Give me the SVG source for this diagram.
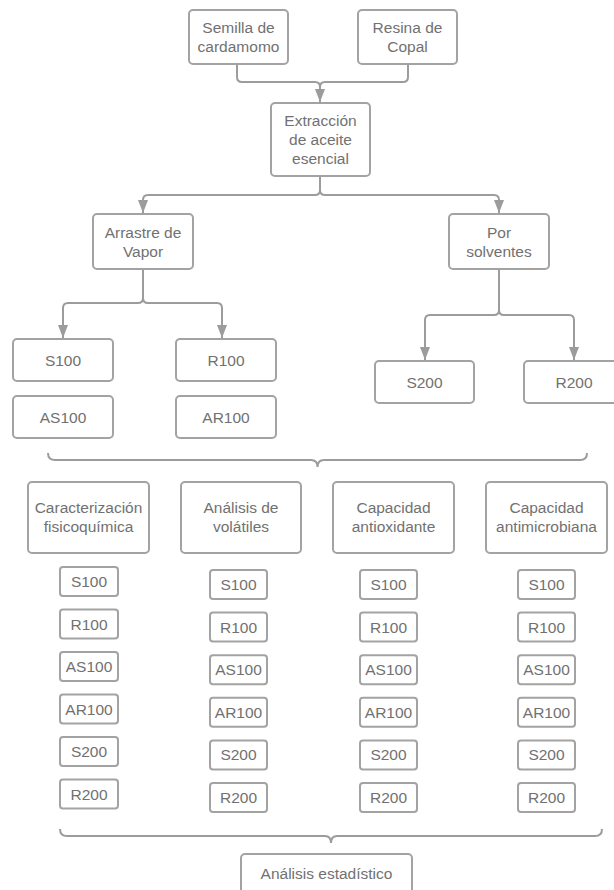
<svg xmlns="http://www.w3.org/2000/svg" width="614" height="890" viewBox="0 0 614 890">
<style>
.b{fill:#fff;stroke:#a3a3a3;stroke-width:2}
.t{font-family:"Liberation Sans",Arial,sans-serif;font-size:15.5px;fill:#717171;text-anchor:middle}
.c{fill:none;stroke:#9c9c9c;stroke-width:2}
</style>
<defs>
<marker id="ar" viewBox="0 0 10 13" markerWidth="10" markerHeight="13" refX="5" refY="13" orient="0" markerUnits="userSpaceOnUse">
<path d="M0,0 L10,0 L5,13 z" fill="#9c9c9c"/>
</marker>
</defs>
<rect width="614" height="890" fill="#fff"/>
<g id="connectors">
<path class="c" d="M237,64 V77 Q237,82 242,82 H315 Q320,82 320,87 V102" marker-end="url(#ar)"/>
<path class="c" d="M408,64 V77 Q408,82 403,82 H325 Q320,82 320,87"/>
<path class="c" d="M320,176 V190 Q320,195 315,195 H148 Q143,195 143,200 V213" marker-end="url(#ar)"/>
<path class="c" d="M320,190 Q320,195 325,195 H494 Q499,195 499,200 V213" marker-end="url(#ar)"/>
<path class="c" d="M143,269 V298 Q143,303 138,303 H68 Q63,303 63,308 V338" marker-end="url(#ar)"/>
<path class="c" d="M143,298 Q143,303 148,303 H217 Q222,303 222,308 V338" marker-end="url(#ar)"/>
<path class="c" d="M499,269 V310 Q499,315 494,315 H430 Q425,315 425,320 V360" marker-end="url(#ar)"/>
<path class="c" d="M499,310 Q499,315 504,315 H569 Q574,315 574,320 V360" marker-end="url(#ar)"/>
<path class="c" d="M48,453 Q48,460 55,460 H311 Q317.5,460 317.5,467 Q317.5,460 324,460 H580 Q587,460 587,453"/>
<path class="c" d="M60,829 Q60,836 67,836 H325 Q331,836 331,843 Q331,836 337,836 H595 Q602,836 602,829"/>
</g>
<g id="semilla"><rect class="b" x="189" y="10" width="99" height="54" rx="4"/><text class="t" x="238.5" y="32.5">Semilla de</text><text class="t" x="238.5" y="51.5">cardamomo</text></g>
<g id="resina"><rect class="b" x="358" y="10" width="99" height="54" rx="4"/><text class="t" x="407.5" y="32.5">Resina de</text><text class="t" x="407.5" y="51.5">Copal</text></g>
<g id="extraccion"><rect class="b" x="271" y="103" width="99" height="73" rx="4"/><text class="t" x="320.5" y="126">Extracción</text><text class="t" x="320.5" y="145">de aceite</text><text class="t" x="320.5" y="164">esencial</text></g>
<g id="arrastre"><rect class="b" x="93" y="214" width="100" height="55" rx="4"/><text class="t" x="143" y="237.5">Arrastre de</text><text class="t" x="143" y="256.5">Vapor</text></g>
<g id="solventes"><rect class="b" x="449" y="214" width="100" height="55" rx="4"/><text class="t" x="499" y="237.5">Por</text><text class="t" x="499" y="256.5">solventes</text></g>
<g id="s100"><rect class="b" x="13" y="339" width="100" height="42" rx="4"/><text class="t" x="63" y="365.5">S100</text></g>
<g id="r100"><rect class="b" x="176" y="339" width="100" height="42" rx="4"/><text class="t" x="226" y="365.5">R100</text></g>
<g id="as100"><rect class="b" x="13" y="396" width="100" height="42" rx="4"/><text class="t" x="63" y="422.5">AS100</text></g>
<g id="ar100"><rect class="b" x="176" y="396" width="100" height="42" rx="4"/><text class="t" x="226" y="422.5">AR100</text></g>
<g id="s200"><rect class="b" x="375" y="361" width="99" height="42" rx="4"/><text class="t" x="424.5" y="387.5">S200</text></g>
<g id="r200"><rect class="b" x="524" y="361" width="100" height="42" rx="4"/><text class="t" x="574" y="387.5">R200</text></g>
<g id="caracterizacion"><rect class="b" x="28" y="482" width="121" height="71" rx="4"/><text class="t" x="88.5" y="513">Caracterización</text><text class="t" x="88.5" y="532">fisicoquímica</text></g>
<g id="volatiles"><rect class="b" x="181" y="482" width="120" height="71" rx="4"/><text class="t" x="241" y="513">Análisis de</text><text class="t" x="241" y="532">volátiles</text></g>
<g id="antioxidante"><rect class="b" x="333" y="482" width="121" height="71" rx="4"/><text class="t" x="393.5" y="513">Capacidad</text><text class="t" x="393.5" y="532">antioxidante</text></g>
<g id="antimicrobiana"><rect class="b" x="486" y="482" width="121" height="71" rx="4"/><text class="t" x="546.5" y="513">Capacidad</text><text class="t" x="546.5" y="532">antimicrobiana</text></g>
<g id="c1-s100"><rect class="b" x="60" y="567" width="58" height="29" rx="3"/><text class="t" x="89" y="587">S100</text></g>
<g id="c1-r100"><rect class="b" x="60" y="609.5" width="58" height="29" rx="3"/><text class="t" x="89" y="629.5">R100</text></g>
<g id="c1-as100"><rect class="b" x="60" y="652" width="58" height="29" rx="3"/><text class="t" x="89" y="672">AS100</text></g>
<g id="c1-ar100"><rect class="b" x="60" y="694.5" width="58" height="29" rx="3"/><text class="t" x="89" y="714.5">AR100</text></g>
<g id="c1-s200"><rect class="b" x="60" y="737" width="58" height="29" rx="3"/><text class="t" x="89" y="757">S200</text></g>
<g id="c1-r200"><rect class="b" x="60" y="779.5" width="58" height="29" rx="3"/><text class="t" x="89" y="799.5">R200</text></g>
<g id="c2-s100"><rect class="b" x="210" y="570" width="57" height="29" rx="3"/><text class="t" x="238.5" y="590">S100</text></g>
<g id="c2-r100"><rect class="b" x="210" y="612.6" width="57" height="29" rx="3"/><text class="t" x="238.5" y="632.6">R100</text></g>
<g id="c2-as100"><rect class="b" x="210" y="655.2" width="57" height="29" rx="3"/><text class="t" x="238.5" y="675.2">AS100</text></g>
<g id="c2-ar100"><rect class="b" x="210" y="697.8" width="57" height="29" rx="3"/><text class="t" x="238.5" y="717.8">AR100</text></g>
<g id="c2-s200"><rect class="b" x="210" y="740.4" width="57" height="29" rx="3"/><text class="t" x="238.5" y="760.4">S200</text></g>
<g id="c2-r200"><rect class="b" x="210" y="783" width="57" height="29" rx="3"/><text class="t" x="238.5" y="803">R200</text></g>
<g id="c3-s100"><rect class="b" x="360" y="570" width="57" height="29" rx="3"/><text class="t" x="388.5" y="590">S100</text></g>
<g id="c3-r100"><rect class="b" x="360" y="612.6" width="57" height="29" rx="3"/><text class="t" x="388.5" y="632.6">R100</text></g>
<g id="c3-as100"><rect class="b" x="360" y="655.2" width="57" height="29" rx="3"/><text class="t" x="388.5" y="675.2">AS100</text></g>
<g id="c3-ar100"><rect class="b" x="360" y="697.8" width="57" height="29" rx="3"/><text class="t" x="388.5" y="717.8">AR100</text></g>
<g id="c3-s200"><rect class="b" x="360" y="740.4" width="57" height="29" rx="3"/><text class="t" x="388.5" y="760.4">S200</text></g>
<g id="c3-r200"><rect class="b" x="360" y="783" width="57" height="29" rx="3"/><text class="t" x="388.5" y="803">R200</text></g>
<g id="c4-s100"><rect class="b" x="518" y="570" width="57" height="29" rx="3"/><text class="t" x="546.5" y="590">S100</text></g>
<g id="c4-r100"><rect class="b" x="518" y="612.6" width="57" height="29" rx="3"/><text class="t" x="546.5" y="632.6">R100</text></g>
<g id="c4-as100"><rect class="b" x="518" y="655.2" width="57" height="29" rx="3"/><text class="t" x="546.5" y="675.2">AS100</text></g>
<g id="c4-ar100"><rect class="b" x="518" y="697.8" width="57" height="29" rx="3"/><text class="t" x="546.5" y="717.8">AR100</text></g>
<g id="c4-s200"><rect class="b" x="518" y="740.4" width="57" height="29" rx="3"/><text class="t" x="546.5" y="760.4">S200</text></g>
<g id="c4-r200"><rect class="b" x="518" y="783" width="57" height="29" rx="3"/><text class="t" x="546.5" y="803">R200</text></g>
<g id="estadistico"><rect class="b" x="241" y="854" width="171" height="45" rx="4"/><text class="t" x="326.5" y="878.5">Análisis estadístico</text></g>
</svg>
